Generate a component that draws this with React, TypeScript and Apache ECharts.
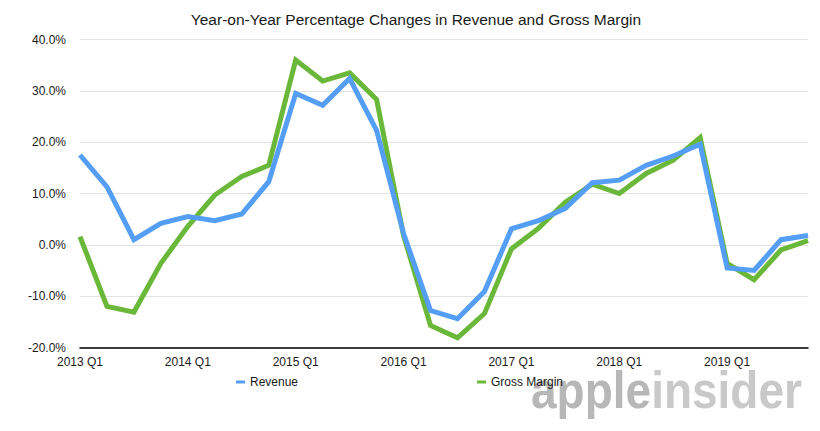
import React, { useEffect, useRef } from "react";
import * as echarts from "echarts";

const categories = [
  "2013 Q1", "2013 Q2", "2013 Q3", "2013 Q4",
  "2014 Q1", "2014 Q2", "2014 Q3", "2014 Q4",
  "2015 Q1", "2015 Q2", "2015 Q3", "2015 Q4",
  "2016 Q1", "2016 Q2", "2016 Q3", "2016 Q4",
  "2017 Q1", "2017 Q2", "2017 Q3", "2017 Q4",
  "2018 Q1", "2018 Q2", "2018 Q3", "2018 Q4",
  "2019 Q1", "2019 Q2", "2019 Q3", "2019 Q4",
];

const revenue = [
  17.5, 11.3, 1.0, 4.2, 5.5, 4.7, 6.0, 12.3,
  29.5, 27.2, 32.4, 22.3, 2.2, -12.8, -14.4, -9.1,
  3.1, 4.7, 7.1, 12.1, 12.6, 15.5, 17.3, 19.6,
  -4.5, -5.0, 1.0, 1.8,
];

const grossMargin = [
  1.6, -12.0, -13.1, -3.6, 3.6, 9.7, 13.3, 15.5,
  36.0, 31.9, 33.5, 28.3, 1.8, -15.7, -18.1, -13.4,
  -0.8, 3.2, 8.3, 11.8, 10.0, 13.9, 16.5, 20.9,
  -3.6, -6.8, -1.0, 0.8,
];

const title = "Year-on-Year Percentage Changes in Revenue and Gross Margin";
const seriesNames = ["Revenue", "Gross Margin"];
const colors = ["#559ef5", "#6ab83a"];
const FONT = "'Liberation Sans', Arial, Helvetica, sans-serif";

export default function App() {
  const ref = useRef<HTMLDivElement>(null);
  useEffect(() => {
    if (!ref.current) return;
    const chart = echarts.init(ref.current, undefined, { renderer: "svg" });
    chart.setOption({
      animation: false,
      backgroundColor: "#ffffff",
      textStyle: { fontFamily: FONT },
      title: {
        text: title,
        left: 411,
        textAlign: "center",
        top: 6,
        textStyle: { fontFamily: FONT, fontSize: 15.5, fontWeight: "normal", color: "#1a1a1a" },
      },
      legend: [
        {
          data: [seriesNames[0]],
          left: 231,
          top: 371,
          icon: "rect",
          itemWidth: 9,
          itemHeight: 3,
          itemGap: 0,
          textStyle: { fontFamily: FONT, fontSize: 12, color: "#1a1a1a" },
        },
        {
          data: [seriesNames[1]],
          left: 472,
          top: 371,
          icon: "rect",
          itemWidth: 9,
          itemHeight: 3,
          itemGap: 0,
          textStyle: { fontFamily: FONT, fontSize: 12, color: "#1a1a1a" },
        },
      ],
      grid: { left: 80, right: 12, top: 39.5, bottom: 83.5, containLabel: false },
      xAxis: {
        type: "category",
        data: categories,
        boundaryGap: false,
        axisLine: { show: true, onZero: false, lineStyle: { color: "#000000", width: 1.5 } },
        axisTick: { show: false },
        axisLabel: {
          interval: 3,
          margin: 8,
          fontFamily: FONT,
          fontSize: 12,
          color: "#1a1a1a",
        },
        splitLine: { show: false },
      },
      yAxis: {
        type: "value",
        min: -20,
        max: 40,
        interval: 10,
        axisLine: { show: false },
        axisTick: { show: false },
        axisLabel: {
          margin: 14,
          fontFamily: FONT,
          fontSize: 12,
          color: "#1a1a1a",
          formatter: (v: number) => `${v.toFixed(1)}%`,
        },
        splitLine: { show: true, lineStyle: { color: "#e2e2e2", width: 1 } },
      },
      graphic: [
        {
          type: "text",
          x: 531,
          y: 369,
          originX: 0,
          originY: 37,
          scaleY: 1.12,
          z: 0,
          style: {
            text: "{a|apple}{b|insider}",
            fontFamily: FONT,
            fontSize: 46,
            fontWeight: "bold",
            rich: {
              a: { fontFamily: FONT, fontSize: 46, fontWeight: "bold", fill: "#b7b7b7", color: "#b7b7b7" },
              b: { fontFamily: FONT, fontSize: 46, fontWeight: "bold", fill: "#c9c9c9", color: "#c9c9c9" },
            },
          },
        },
      ],
      series: [
        {
          name: seriesNames[0],
          type: "line",
          data: revenue,
          symbol: "none",
          z: 3,
          lineStyle: { color: colors[0], width: 5, join: "miter" },
          itemStyle: { color: colors[0] },
        },
        {
          name: seriesNames[1],
          type: "line",
          data: grossMargin,
          symbol: "none",
          z: 2,
          lineStyle: { color: colors[1], width: 5, join: "miter" },
          itemStyle: { color: colors[1] },
        },
      ],
    });
    return () => chart.dispose();
  }, []);
  return (
    <div
      ref={ref}
      style={{ position: "fixed", left: 0, top: 0, width: 820, height: 431 }}
    />
  );
}
